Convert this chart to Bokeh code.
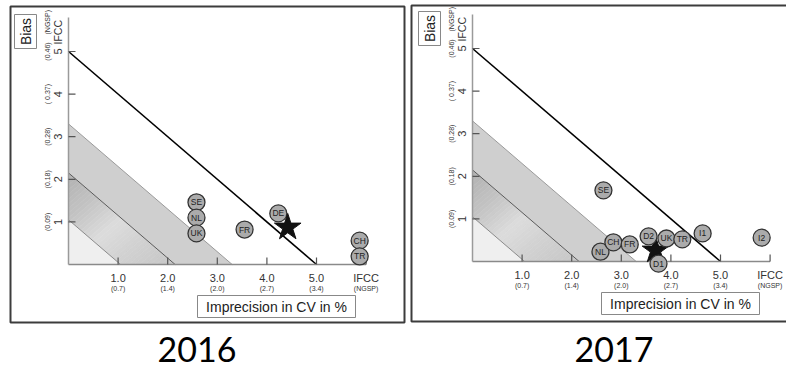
import math
from bokeh.plotting import figure
from bokeh.layouts import row
from bokeh.models import Range1d
from bokeh.core.properties import value
from bokeh.embed import file_html
from bokeh.resources import INLINE

# ---------------- data ----------------
cv_ticks = [1, 2, 3, 4, 5, 6]
cv_labels = ["1.0", "2.0", "3.0", "4.0", "5.0", "IFCC"]
cv_ngsp_labels = ["(0.7)", "(1.4)", "(2.0)", "(2.7)", "(3.4)", "(NGSP)"]
bias_ticks = [1, 2, 3, 4, 5]
bias_labels = ["1", "2", "3", "4", "5"]
bias_ngsp_labels = ["(0.09)", "(0.18)", "(0.28)", "( 0.37)", "(0.46)"]

total_error_limit = 5.0
band_limits = [1.05, 2.15, 3.3]

labels_2016 = ["SE", "NL", "UK", "FR", "DE", "CH", "TR"]
cv_2016 = [2.58, 2.58, 2.58, 3.55, 4.23, 5.87, 5.87]
bias_2016 = [1.46, 1.10, 0.73, 0.82, 1.20, 0.56, 0.19]
star_cv_2016 = [4.42]
star_bias_2016 = [0.87]

labels_2017 = ["SE", "NL", "CH", "FR", "D2", "UK", "TR", "I1", "I2", "D1"]
cv_2017 = [2.64, 2.58, 2.84, 3.17, 3.55, 3.91, 4.23, 4.64, 5.83, 3.75]
bias_2017 = [1.67, 0.23, 0.45, 0.40, 0.59, 0.54, 0.52, 0.66, 0.56, -0.05]
star_cv_2017 = [3.69]
star_bias_2017 = [0.26]

# ---------------- layout constants ----------------
SX = 49.6   # px per CV unit
SY = 42.6   # px per bias unit
H = 369
FIG_TOP = 0
FONT = value("Liberation Sans")

# gray levels of the shaded middle band, from upper-left to lower-right
grad_anchor_u = [-2.2, -1.0, 0.0, 1.0, 2.2]
grad_anchor_g = [176, 196, 220, 208, 198]


def grad_color(u):
    for i in range(len(grad_anchor_u) - 1):
        a, b = grad_anchor_u[i], grad_anchor_u[i + 1]
        if a <= u <= b:
            t = (u - a) / (b - a)
            g = int(round(grad_anchor_g[i] + t * (grad_anchor_g[i + 1] - grad_anchor_g[i])))
            return "#%02x%02x%02x" % (g, g, g)
    return "#c8c8c8"


def make_panel(title, names, cvs, biases, star_cv, star_bias, fig_left, width,
               ox, oy, frame_left, frame_right, frame_top, frame_bottom, title_x, star_on_top):
    X = lambda s: (s - ox) / SX
    Y = lambda s: (oy - s) / SY
    dx = lambda s: s / SX
    dy = lambda s: s / SY

    p = figure(width=width, height=H, title=None,
               x_range=Range1d(X(fig_left), X(fig_left + width)),
               y_range=Range1d(Y(FIG_TOP + H), Y(FIG_TOP)),
               output_backend="svg", toolbar_location=None,
               x_axis_location=None, y_axis_location=None,
               min_border=0, outline_line_color=None,
               background_fill_color="white", border_fill_color="white")
    p.grid.visible = False

    c1, c2, c3 = band_limits
    # gradient middle band (thin strips along the band)
    n = 40
    edges = [-2.2 + 4.4 * i / n for i in range(n + 1)]
    xs, ys, cols = [], [], []
    for i in range(n):
        u0, u1 = edges[i], edges[i + 1]
        pts = [(c1, u0), (c1, u1), (c2, u1), (c2, u0)]
        xs.append([(s + u) / 2 for s, u in pts])
        ys.append([(s - u) / 2 for s, u in pts])
        cols.append(grad_color((u0 + u1) / 2))
    p.patches(xs, ys, fill_color=cols, line_color=cols, line_width=0.6)
    # white masks outside the quadrant
    xl, xr = X(fig_left) - 1, X(fig_left + width) + 1
    yb, yt = Y(FIG_TOP + H) - 1, Y(FIG_TOP) + 1
    p.quad(left=[xl, xl], right=[0, xr], bottom=[yb, yb], top=[yt, 0],
           fill_color="white", line_color=None)

    # outer band
    p.patch([0, 0, c3, c2], [c2, c3, 0, 0], fill_color="#cfcfcf", line_color=None)
    p.line([0, c3], [c3, 0], line_color="#9a9a9a", line_width=1)
    # inner triangle
    p.patch([0, 0, c1], [0, c1, 0], fill_color="#efefef", line_color=None)
    p.line([0, c1], [c1, 0], line_color="#8a8a8a", line_width=1)
    p.line([0, c2], [c2, 0], line_color="#5a5a5a", line_width=1)
    # total error line
    p.line([0, total_error_limit], [total_error_limit, 0], line_color="black", line_width=1.6)

    # axes
    p.line([0, cv_ticks[-1]], [0, 0], line_color="#8a8a8a", line_width=1.5)
    p.line([0, 0], [0, 5.8], line_color="#9a9a9a", line_width=1.5)
    p.segment(x0=cv_ticks, y0=[0] * len(cv_ticks), x1=cv_ticks, y1=[dy(7)] * len(cv_ticks),
              line_color="#555555", line_width=1.2)
    p.segment(x0=[0] * len(bias_ticks), y0=bias_ticks, x1=[dx(7)] * len(bias_ticks), y1=bias_ticks,
              line_color="#555555", line_width=1.2)

    # tick labels
    p.text(x=cv_ticks, y=[-dy(13)] * len(cv_ticks), text=cv_labels,
           text_align="center", text_baseline="middle", text_font=FONT,
           text_font_size="11px", text_color="#333333")
    p.text(x=cv_ticks, y=[-dy(24)] * len(cv_ticks), text=cv_ngsp_labels,
           text_align="center", text_baseline="middle", text_font=FONT,
           text_font_size="7px", text_color="#333333")
    p.text(x=[-dx(11)] * len(bias_ticks), y=bias_ticks, text=bias_labels, angle=math.pi / 2,
           text_align="center", text_baseline="middle", text_font=FONT,
           text_font_size="11px", text_color="#333333")
    p.text(x=[-dx(11)], y=[bias_ticks[-1] + dy(7)], text=["IFCC"], angle=math.pi / 2,
           text_align="left", text_baseline="middle", text_font=FONT,
           text_font_size="10.5px", text_color="#333333")
    p.text(x=[-dx(21)] * len(bias_ticks), y=bias_ticks, text=bias_ngsp_labels, angle=math.pi / 2,
           text_align="center", text_baseline="middle", text_font=FONT,
           text_font_size="7px", text_color="#333333")
    p.text(x=[-dx(21)], y=[bias_ticks[-1] + dy(17)], text=["(NGSP)"], angle=math.pi / 2,
           text_align="left", text_baseline="middle", text_font=FONT,
           text_font_size="7px", text_color="#333333")

    # Bias box
    p.quad(left=[-dx(54)], right=[-dx(32)], top=[dy(250)], bottom=[dy(216)],
           fill_color="white", line_color="#888888", line_width=1)
    p.text(x=[-dx(43)], y=[dy(233)], text=["Bias"], angle=math.pi / 2,
           text_align="center", text_baseline="middle", text_font=FONT,
           text_font_size="14px", text_color="#222222")
    # Imprecision box
    p.quad(left=[dx(129)], right=[dx(287)], top=[-dy(31)], bottom=[-dy(53)],
           fill_color="white", line_color="#888888", line_width=1)
    p.text(x=[dx(208)], y=[-dy(42)], text=["Imprecision in CV in %"],
           text_align="center", text_baseline="middle", text_font=FONT,
           text_font_size="14px", text_color="#222222")

    # points
    def draw_star():
        p.scatter(star_cv, star_bias, marker="star", size=28,
                  fill_color="#111111", line_color="#111111")
    if not star_on_top:
        draw_star()
    p.scatter(cvs, biases, size=17, fill_color="#ababab", line_color="#333333", line_width=1.3)
    p.text(x=cvs, y=biases, text=names, text_align="center", text_baseline="middle",
           text_font=FONT, text_font_size="8.5px", text_color="#222222")
    if star_on_top:
        draw_star()

    # panel frame
    p.quad(left=[X(frame_left)], right=[X(frame_right)], top=[Y(frame_top)], bottom=[Y(frame_bottom)],
           fill_color=None, line_color="#3c3c3c", line_width=2)
    # year title
    p.text(x=[X(title_x)], y=[Y(349)], text=[title], text_align="center",
           text_baseline="middle", text_font=value("Lato"),
           text_font_size="34px", text_color="#000000")
    return p


p1 = make_panel("2016", labels_2016, cv_2016, bias_2016, star_cv_2016, star_bias_2016,
                fig_left=0, width=408, ox=68, oy=264,
                frame_left=10, frame_right=404, frame_top=6, frame_bottom=322, title_x=196.5,
                star_on_top=True)
p2 = make_panel("2017", labels_2017, cv_2017, bias_2017, star_cv_2017, star_bias_2017,
                fig_left=408, width=378, ox=472, oy=261,
                frame_left=411, frame_right=800, frame_top=5, frame_bottom=321, title_x=613.5,
                star_on_top=False)

layout = row(p1, p2, spacing=0)
open("out.html", "w").write(file_html(layout, INLINE))
